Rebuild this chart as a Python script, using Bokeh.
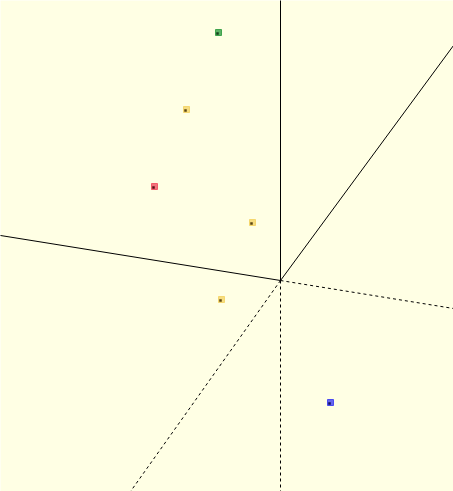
from bokeh.plotting import figure
from bokeh.models import ColumnDataSource, Range1d
from bokeh.embed import file_html
from bokeh.resources import INLINE

# projected directions of the three axes (x, y, z), positive and negative halves
axis_names = ["x", "y", "z"]
axis_dx = [-280, 173, 0]
axis_dy = [45, 235, 280]
neg_dx = [173, -150, 0]
neg_dy = [-28, -211, -211]

# projected point positions
point_x = [-62, -94, -126, -28, -59, 50]
point_y = [248, 171, 94, 58, -19, -122]
point_colors = ["#3fa34d", "#f5d76e", "#f25c6a", "#f5d76e", "#f5d76e", "#4a4af0"]
point_marks = ["#14401a", "#5a4410", "#5a1018", "#5a4410", "#5a4410", "#101060"]

p = figure(width=453, height=491, output_backend="svg", toolbar_location=None,
           x_range=Range1d(-280, 173), y_range=Range1d(-211, 280),
           min_border=0, background_fill_color="#ffffe4", border_fill_color="#ffffe4")
p.axis.visible = False
p.grid.visible = False
p.outline_line_color = None

k = 3
pos = ColumnDataSource(dict(x0=[0] * 3, y0=[0] * 3,
                            x1=[k * d for d in axis_dx], y1=[k * d for d in axis_dy]))
neg = ColumnDataSource(dict(x0=[0] * 3, y0=[0] * 3,
                            x1=[k * d for d in neg_dx], y1=[k * d for d in neg_dy]))
p.segment(x0="x0", y0="y0", x1="x1", y1="y1", source=pos, line_color="black", line_width=1)
p.segment(x0="x0", y0="y0", x1="x1", y1="y1", source=neg, line_color="black", line_width=1,
          line_dash="3 3")

pts = ColumnDataSource(dict(x=point_x, y=point_y, c=point_colors, m=point_marks,
                            mx=[v - 1 for v in point_x], my=[v - 1 for v in point_y]))
p.scatter(x="x", y="y", source=pts, marker="square", size=6, fill_color="c",
          line_color="c", fill_alpha=0.85)
p.scatter(x="mx", y="my", source=pts, marker="square", size=2.5, fill_color="m",
          line_color=None)

open("out.html", "w").write(file_html(p, INLINE))
